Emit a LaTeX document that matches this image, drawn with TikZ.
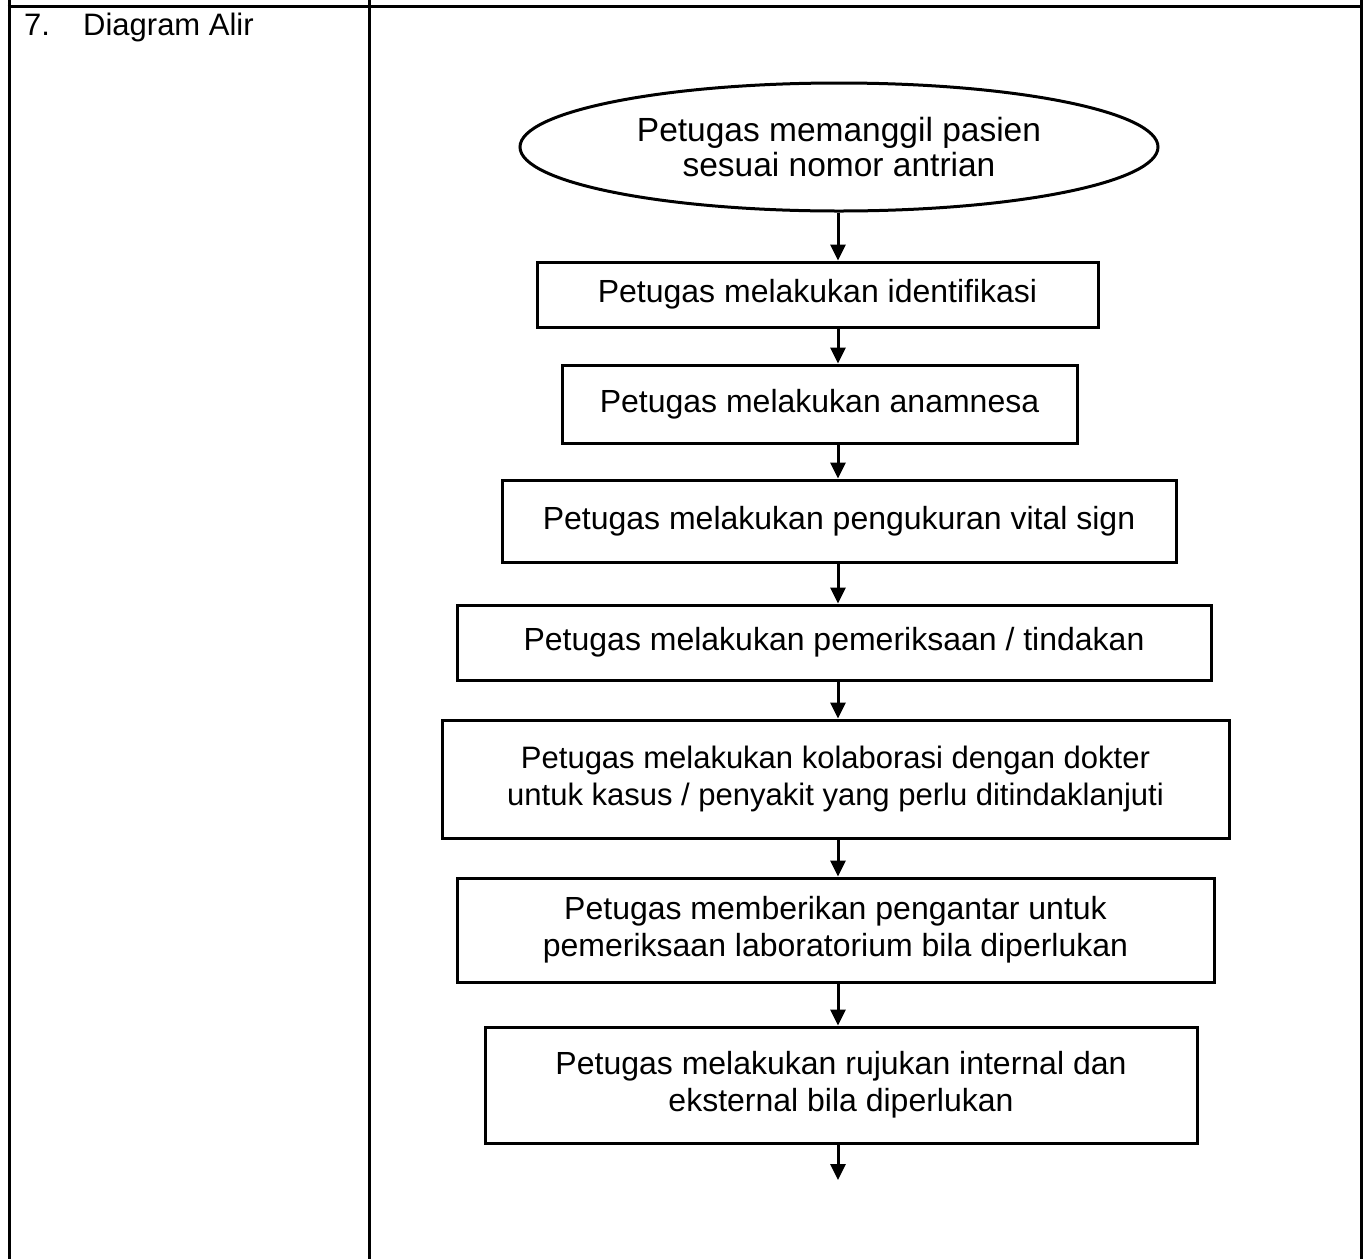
\documentclass[tikz,border=0pt]{standalone}
\usepackage{fontspec}
\setmainfont{Liberation Sans}
\usetikzlibrary{shapes.geometric,arrows.meta}
\begin{document}
\begin{tikzpicture}[x=1pt,y=-1pt,
  frame/.style={line width=3pt},
  stepbox/.style={draw,line width=3pt,rectangle,inner sep=0pt,align=center,
    font=\fontsize{32}{37}\selectfont},
  startell/.style={draw,line width=3pt,ellipse,inner sep=0pt,align=center,
    font=\fontsize{33.5}{35}\selectfont},
  flow/.style={line width=3pt,-{Triangle[width=15pt,length=16pt]}}]
\useasboundingbox (0,0) rectangle (1367,1259);
% table
\draw[frame] (9,0) -- (9,1259);
\draw[frame] (369,0) -- (369,1259);
\draw[frame] (1361,0) -- (1361,1259);
\draw[frame] (7.5,6) -- (1362.5,6);
\node[anchor=base west,inner sep=0pt,font=\fontsize{31}{37}\selectfont] (num) at (24,35) {7.};
\node[anchor=base west,inner sep=0pt,font=\fontsize{31}{37}\selectfont] (title) at (83,35) {Diagram Alir};
% flowchart
\coordinate (ax) at (838,0);
\node[startell,minimum width=638pt,minimum height=128pt] (s) at (839,147) {Petugas memanggil pasien\\sesuai nomor antrian};
\node[stepbox,minimum width=561pt,minimum height=65pt] (b1) at (817.5,294.5) {Petugas melakukan identifikasi};
\node[stepbox,minimum width=515pt,minimum height=78pt] (b2) at (819.5,404) {Petugas melakukan anamnesa};
\node[stepbox,minimum width=674pt,minimum height=82pt] (b3) at (839,521) {Petugas melakukan pengukuran vital sign};
\node[stepbox,minimum width=754pt,minimum height=75pt] (b4) at (834,642.5) {Petugas melakukan pemeriksaan / tindakan};
\node[stepbox,minimum width=787pt,minimum height=118pt,font=\fontsize{31}{37}\selectfont] (b5) at (835.5,779) {Petugas melakukan kolaborasi dengan dokter\\untuk kasus / penyakit yang perlu ditindaklanjuti};
\node[stepbox,minimum width=757pt,minimum height=104pt] (b6) at (835.5,930) {Petugas memberikan pengantar untuk\\pemeriksaan laboratorium bila diperlukan};
\node[stepbox,minimum width=712pt,minimum height=116pt] (b7) at (841,1085) {Petugas melakukan rujukan internal dan\\eksternal bila diperlukan};
\coordinate (end) at (838,1180);
\draw[flow] (s.south -| ax) -- (b1.north -| ax);
\draw[flow] (b1.south -| ax) -- (b2.north -| ax);
\draw[flow] (b2.south -| ax) -- (b3.north -| ax);
\draw[flow] (b3.south -| ax) -- (b4.north -| ax);
\draw[flow] (b4.south -| ax) -- (b5.north -| ax);
\draw[flow] (b5.south -| ax) -- (b6.north -| ax);
\draw[flow] (b6.south -| ax) -- (b7.north -| ax);
\draw[flow] (b7.south -| ax) -- (end);
\end{tikzpicture}
\end{document}
